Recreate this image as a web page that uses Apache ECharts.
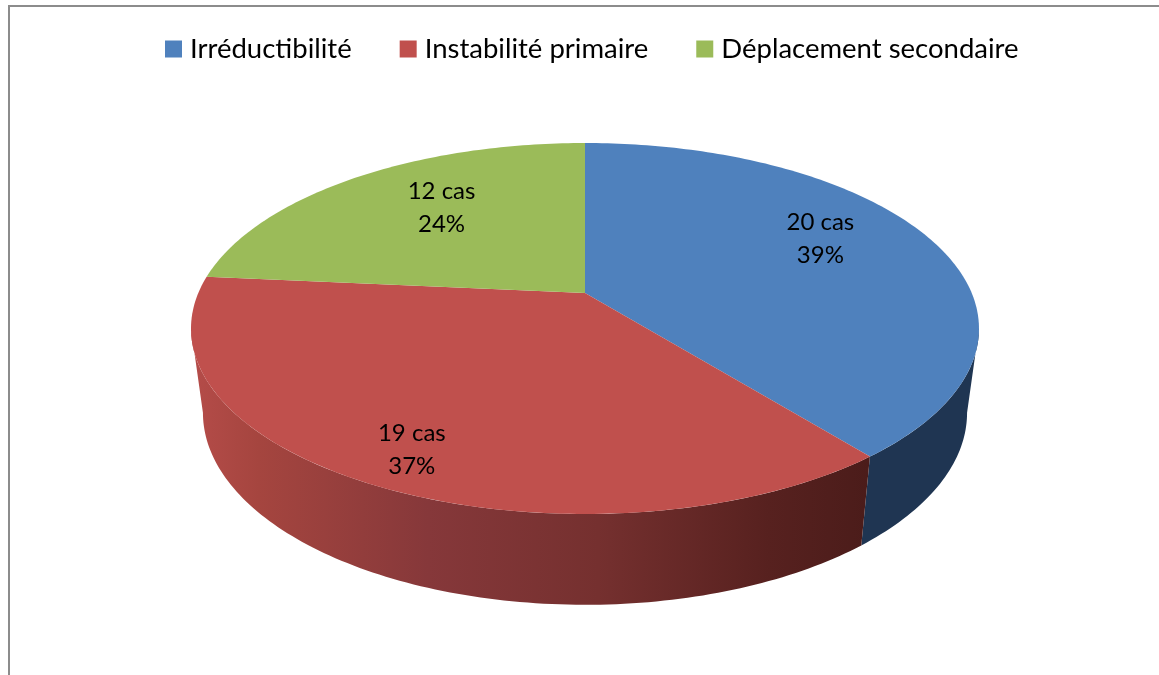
<!DOCTYPE html>
<html>
<head>
<meta charset="utf-8">
<style>html,body{margin:0;padding:0;background:#fff}#c{width:1159px;height:675px}</style>
<script src="https://cdn.jsdelivr.net/npm/echarts@6/dist/echarts.min.js"></script>
</head>
<body>
<div id="c"></div>
<script>
var categories = ['Irréductibilité', 'Instabilité primaire', 'Déplacement secondaire'];
var caseCounts = [20, 19, 12];
var percentLabels = ['39%', '37%', '24%'];
var topColors = ['#4f81bd', '#c0504d', '#9bbb59'];

// projection of the tilted disc (layout only)
var CX = 585;
var topPlane = {cy: 293, a: 178.7, b: 386.7, p: 0.1914};
var botPlane = {cy: 376, a: 185, b: 375, p: 0.1914};
// only this part of the rim faces the viewer (silhouette angles of the projection)
var RIM_FROM = 101, RIM_TO = 259;
// label nudges from the slice's mid-radius anchor
var labelNudge = [[1, -16], [-35, 38], [16, -4]];

var total = caseCounts.reduce(function (s, v) { return s + v; }, 0);

function project(pl, deg, r) {
  var t = deg * Math.PI / 180, X = r * Math.sin(t), Y = r * Math.cos(t), w = 1 + pl.p * Y;
  return [CX + pl.b * X / w, pl.cy - pl.a * Y / w];
}
function arc(pl, from, to) {
  var n = Math.max(2, Math.ceil(Math.abs(to - from))), pts = [];
  for (var i = 0; i <= n; i++) pts.push(project(pl, from + (to - from) * i / n, 1));
  return pts;
}
function sideFill(i) {
  if (i === 0) return '#1f3552';
  return new echarts.graphic.LinearGradient(0, 0, 1, 0, [
    {offset: 0, color: '#b54c49'},
    {offset: 0.1, color: '#a5453f'},
    {offset: 0.35, color: '#86383a'},
    {offset: 0.6, color: '#75302f'},
    {offset: 0.85, color: '#57211f'},
    {offset: 1, color: '#4b1c1a'}
  ]);
}
function renderSlice(seriesIndex) {
  return function (params, api) {
    var before = 0;
    for (var k = 0; k < seriesIndex; k++) before += caseCounts[k];
    var v = api.value(0);
    var a0 = before / total * 360, a1 = (before + v) / total * 360;
    var apex = project(topPlane, 0, 0);
    var top = arc(topPlane, a0, a1);
    var mid = (a0 + a1) / 2, anchor = project(topPlane, mid, 0.67);
    var nudge = labelNudge[seriesIndex];
    var children = [];
    var r0 = Math.max(a0, RIM_FROM), r1 = Math.min(a1, RIM_TO);
    if (r1 > r0) {
      children.push({
        type: 'polygon', z2: 1,
        shape: {points: arc(topPlane, r0, r1).concat(arc(botPlane, r1, r0))},
        style: {fill: sideFill(seriesIndex)}
      });
    }
    children.push(
      {type: 'polygon', z2: 10, shape: {points: [apex].concat(top)}, style: {fill: topColors[seriesIndex]}},
      {type: 'text', z2: 20, x: anchor[0] + nudge[0], y: anchor[1] + nudge[1], style: {
        text: v + ' cas\n' + percentLabels[seriesIndex],
        fontFamily: 'Lato', fontSize: 24, lineHeight: 33, fill: '#000',
        align: 'center', verticalAlign: 'middle'
      }}
    );
    return {type: 'group', children: children};
  };
}

var chart = echarts.init(document.getElementById('c'), null, {renderer: 'canvas'});
chart.setOption({
  animation: false,
  backgroundColor: '#fff',
  graphic: [{
    type: 'rect', silent: true, z: -1,
    shape: {x: 9, y: 6, width: 1300, height: 800},
    style: {fill: '#fff', stroke: '#8c8c8c', lineWidth: 2}
  }],
  legend: {
    top: 30, left: 160,
    itemWidth: 17, itemHeight: 17, itemGap: 48,
    icon: 'rect',
    textStyle: {fontFamily: 'Lato', fontSize: 27.5, color: '#000', padding: [0, 0, 0, 3]},
    data: categories
  },
  series: categories.map(function (name, i) {
    return {
      type: 'custom', name: name, coordinateSystem: 'none',
      itemStyle: {color: topColors[i]},
      renderItem: renderSlice(i),
      data: [[caseCounts[i]]],
      clip: false
    };
  })
});
</script>
</body>
</html>
